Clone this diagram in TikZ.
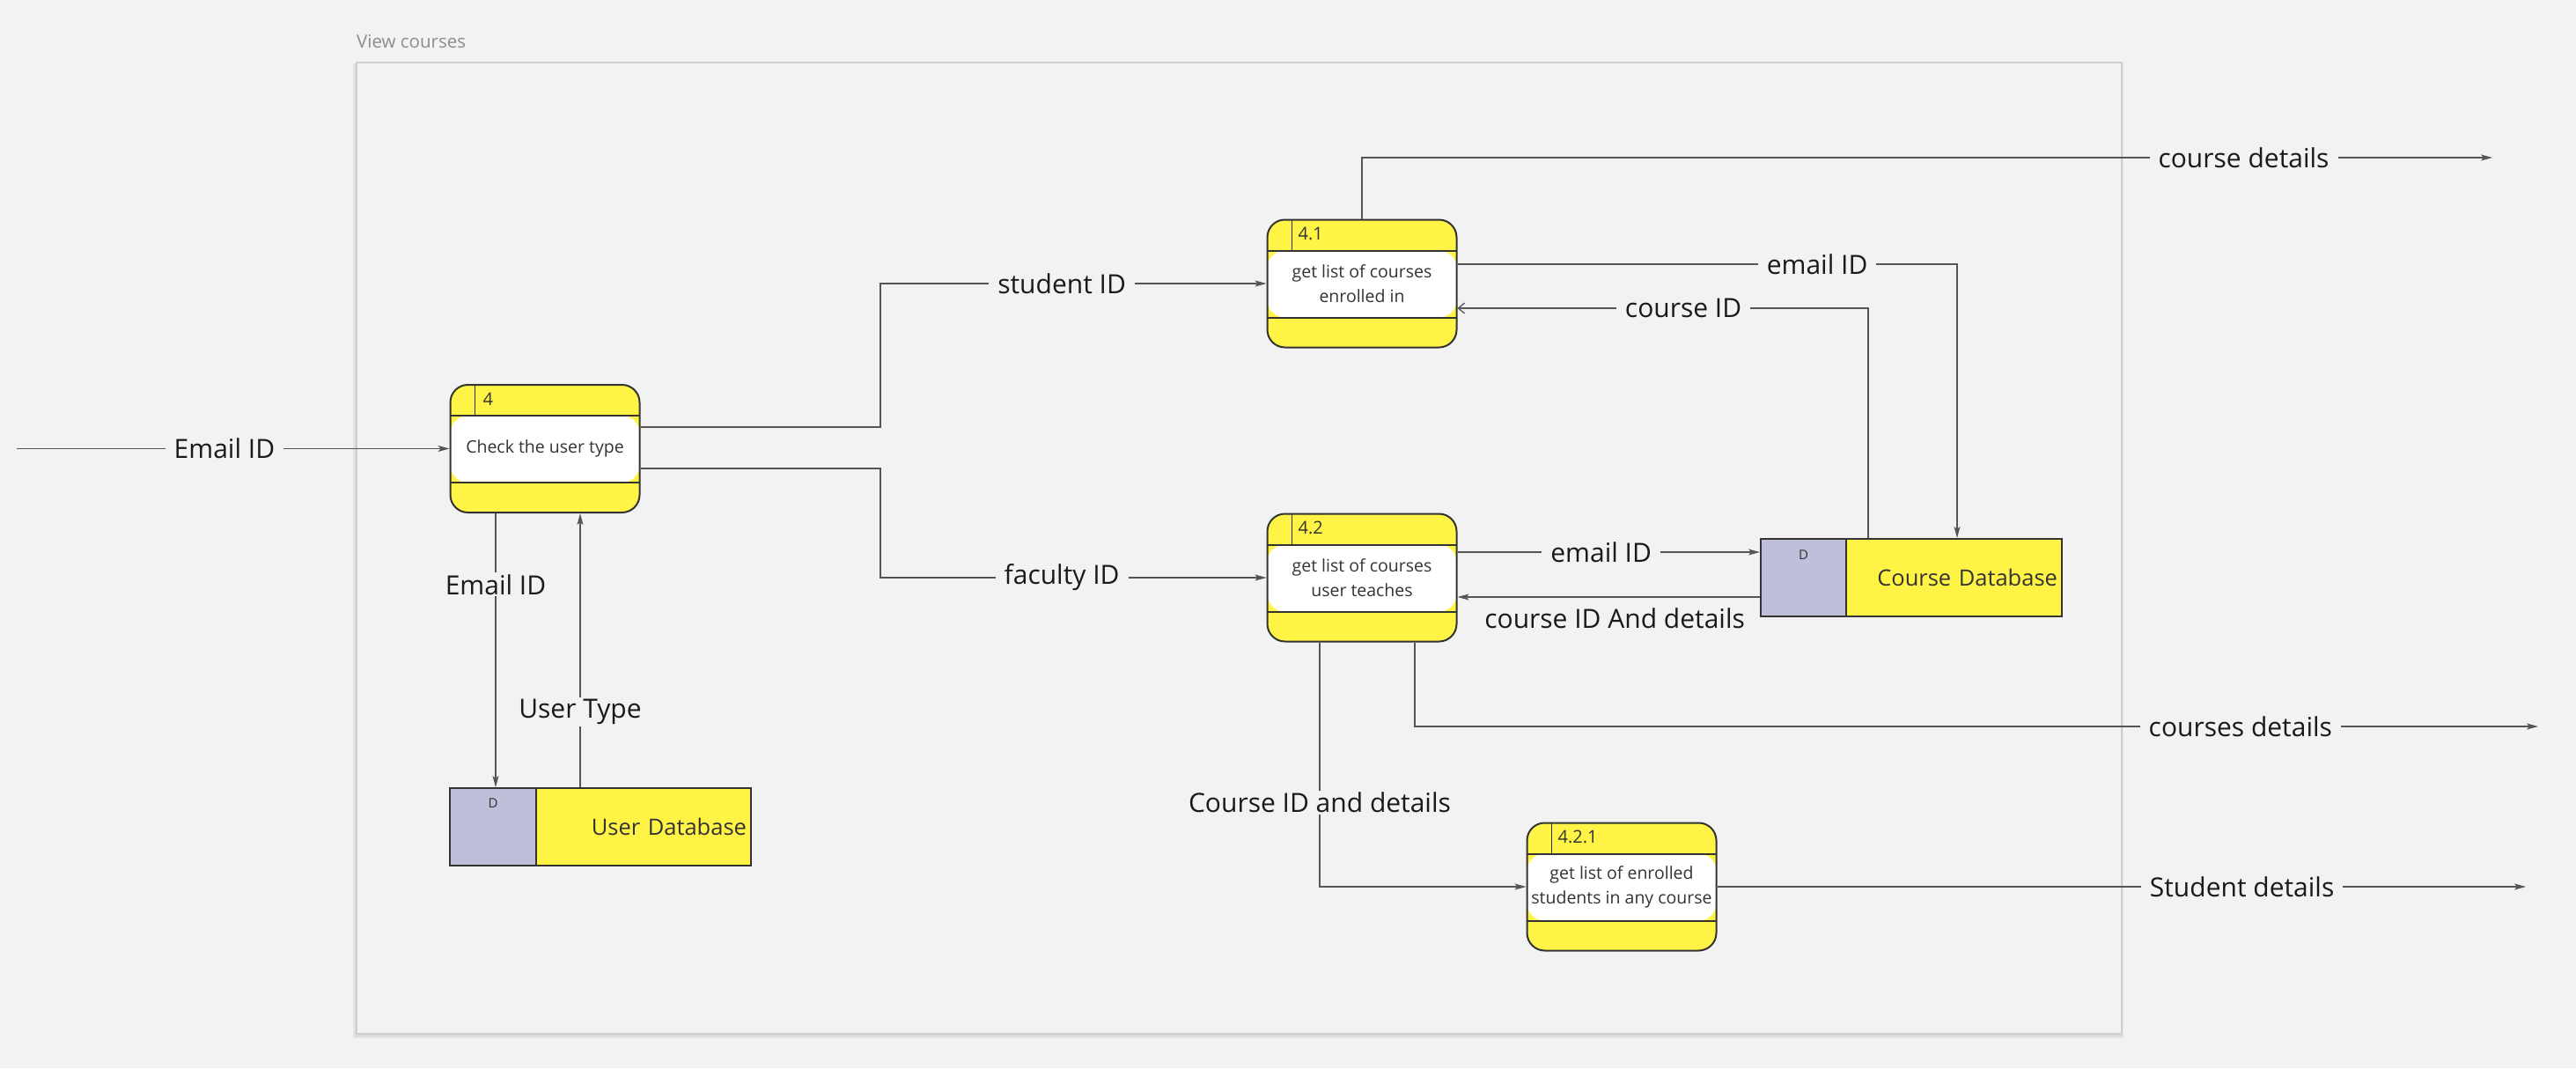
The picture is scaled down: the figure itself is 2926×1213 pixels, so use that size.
\documentclass[tikz,border=0pt]{standalone}
\usepackage{fontspec}
\setmainfont{Open Sans}
\usetikzlibrary{arrows.meta,calc}
\definecolor{bg}{HTML}{F2F2F2}
\definecolor{pyellow}{HTML}{FFF445}
\definecolor{dblue}{HTML}{BEBFDB}
\definecolor{edgec}{HTML}{333333}
\definecolor{wire}{HTML}{555555}
\definecolor{framec}{HTML}{CFCFCF}
\definecolor{titlec}{HTML}{8C8C8C}
\definecolor{lblc}{HTML}{1A1A1A}
\tikzset{
  proc/.style={draw=edgec, line width=2pt, fill=pyellow, rounded corners=20pt,
    minimum width=215pt, minimum height=145pt, inner sep=1pt, align=center,
    text=edgec, font=\fontsize{19.5}{28}\selectfont,
    path picture={
      \fill[white] ([yshift=-35pt]path picture bounding box.north west) rectangle ([yshift=34pt]path picture bounding box.south east);
      \draw[edgec, line width=2pt] ([yshift=-35pt]path picture bounding box.north west) -- ([yshift=-35pt]path picture bounding box.north east);
      \draw[edgec, line width=2pt] ([yshift=34pt]path picture bounding box.south west) -- ([yshift=34pt]path picture bounding box.south east);
      \draw[edgec, line width=1.5pt] ([xshift=28pt]path picture bounding box.north west) -- ([xshift=28pt,yshift=-35pt]path picture bounding box.north west);
    }},
  pnum/.style={anchor=west, inner sep=0pt, text=edgec, font=\fontsize{20}{24}\selectfont},
  dpart/.style={draw=edgec, line width=2pt, fill=dblue, minimum height=88pt, inner sep=0pt},
  npart/.style={draw=edgec, line width=2pt, fill=pyellow, minimum height=88pt, inner xsep=5pt,
    align=right, text=edgec, font=\fontsize{25.5}{30}\selectfont},
  dlab/.style={inner sep=0pt, text=edgec, font=\fontsize{15}{17}\selectfont},
  lbl/.style={fill=bg, inner xsep=10pt, inner ysep=2pt, text=lblc, font=\fontsize{30}{36}\selectfont},
  flow/.style={draw=wire, line width=1.3pt, -{Stealth[length=13pt,width=7pt,inset=3pt]}},
  openflow/.style={draw=wire, line width=1.3pt, -{Straight Barb[length=7pt,width=12pt]}},
}
\begin{document}
\begin{tikzpicture}[x=1pt,y=-1pt]
\fill[bg] (0,0) rectangle (2926,1213);
\useasboundingbox (0,0) rectangle (2926,1213);
% frame
\fill[black, opacity=0.05] (401,72) rectangle (2412,1179);
\fill[black, opacity=0.05] (403,72) rectangle (2411,1177);
\draw[framec, line width=1.5pt, fill=bg] (405,71) rectangle (2410,1174);
\node[anchor=west, inner sep=0pt, text=titlec, font=\fontsize{20.5}{24}\selectfont] (title) at (405,47) {View courses};

% processes
\node[proc] (p4) at (619,509.5) {Check the user type};
\node[pnum] (p4n) at ([xshift=38pt,yshift=-17pt]p4.north west) {4};
\node[proc] (p41) at (1547,322) {get list of courses\\enrolled in};
\node[pnum] (p41n) at ([xshift=36pt,yshift=-17pt]p41.north west) {4.1};
\node[proc] (p42) at (1547,656) {get list of courses\\user teaches};
\node[pnum] (p42n) at ([xshift=36pt,yshift=-17pt]p42.north west) {4.2};
\node[proc] (p421) at (1842,1007) {get list of enrolled\\students in any course};
\node[pnum] (p421n) at ([xshift=36pt,yshift=-17pt]p421.north west) {4.2.1};

% data stores
\node[dpart, minimum width=97pt] (cdbD) at (2048.5,656) {};
\node[npart, minimum width=245pt, text width=235pt] (cdb) at (2219.5,656) {Course Database};
\node[dlab] (cdbDl) at ([yshift=-19pt]cdbD.north) {D};
\node[dpart, minimum width=98pt] (udbD) at (560,939) {};
\node[npart, minimum width=244pt, text width=234pt] (udb) at (731,939) {User Database};
\node[dlab] (udbDl) at ([yshift=-18pt]udbD.north) {D};

% free ends
\coordinate (in) at (19,509.5);
\coordinate (o1) at (2831,179);
\coordinate (o2) at (2883,825);
\coordinate (o3) at (2869,1007);

% connectors
\draw[flow] (in) -- node[lbl,pos=0.48]{Email ID} (p4.west);
\draw[flow] (p4.east |- 0,485) -- (1000,485) -- (1000,322) -- node[lbl,pos=0.47]{student ID} (p41.west);
\draw[flow] (p4.east |- 0,532) -- (1000,532) -- (1000,656) -- node[lbl,pos=0.47]{faculty ID} (p42.west);
\draw[flow] (p4.south -| 563,0) -- node[lbl,pos=0.26]{Email ID} (udbD.north -| 563,0);
\draw[flow] (udb.north -| 659,0) -- node[lbl,pos=0.275]{User Type} (p4.south -| 659,0);
\draw[flow] (p41.north) -- (1547,179) -- node[lbl,pos=0.78]{course details} (o1);
\draw[flow] (p41.east |- 0,300) -- node[lbl,pos=0.72]{email ID} (2223,300) -- (cdb.north -| 2223,0);
\draw[openflow] (cdb.north -| 2122,0) -- (2122,350) -- node[lbl,pos=0.45]{course ID} (p41.east |- 0,350);
\draw[flow] (p42.east |- 0,627) -- node[lbl,pos=0.475]{email ID} (cdbD.west |- 0,627);
\draw[flow] (cdbD.west |- 0,678) -- node[lbl,fill=none,pos=0.48,yshift=-24pt]{course ID And details} (p42.east |- 0,678);
\draw[flow] (p42.south -| 1499,0) -- node[lbl,pos=0.656]{Course ID and details} (1499,1007) -- (p421.west);
\draw[flow] (p42.south -| 1607,0) -- (1607,825) -- node[lbl,pos=0.735]{courses details} (o2);
\draw[flow] (p421.east) -- node[lbl,pos=0.649]{Student details} (o3);
\end{tikzpicture}
\end{document}
